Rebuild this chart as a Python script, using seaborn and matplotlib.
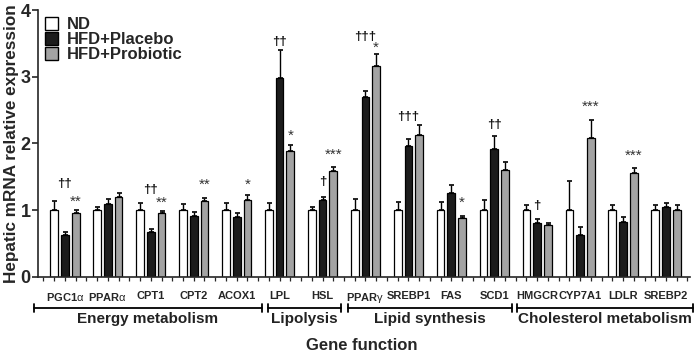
import numpy as np
import pandas as pd
import matplotlib
matplotlib.use("Agg")
import matplotlib.pyplot as plt
import seaborn as sns
from matplotlib.patches import Patch

# -------------------------------
# data
# -------------------------------
genes = ["PGC1$\\mathrm{\\alpha}$", "PPAR$\\mathrm{\\alpha}$", "CPT1", "CPT2", "ACOX1",
         "LPL", "HSL",
         "PPAR$\\mathrm{\\gamma}$", "SREBP1", "FAS", "SCD1",
         "HMGCR", "CYP7A1", "LDLR", "SREBP2"]
groups = ["ND", "HFD+Placebo", "HFD+Probiotic"]

nd_mean = [1.00, 1.00, 1.00, 1.00, 1.00, 1.00, 1.00, 1.00, 1.00, 1.00, 1.00, 1.00, 1.00, 1.00, 1.00]
nd_err = [0.13, 0.05, 0.10, 0.09, 0.10, 0.10, 0.05, 0.17, 0.12, 0.12, 0.15, 0.07, 0.43, 0.07, 0.07]
placebo_mean = [0.63, 1.09, 0.67, 0.91, 0.89, 2.99, 1.15, 2.70, 1.96, 1.25, 1.91, 0.81, 0.63, 0.82, 1.05]
placebo_err = [0.04, 0.07, 0.05, 0.06, 0.06, 0.41, 0.05, 0.09, 0.11, 0.12, 0.20, 0.05, 0.11, 0.08, 0.05]
probiotic_mean = [0.95, 1.19, 0.95, 1.14, 1.15, 1.88, 1.59, 3.16, 2.12, 0.88, 1.60, 0.77, 2.08, 1.56, 1.00]
probiotic_err = [0.05, 0.06, 0.03, 0.04, 0.07, 0.10, 0.06, 0.19, 0.15, 0.03, 0.12, 0.03, 0.28, 0.07, 0.07]

# significance marks: gene index, group index, symbol, height
sig_gene = [0, 0, 2, 2, 3, 4, 5, 5, 6, 6, 7, 7, 8, 9, 10, 11, 12, 13]
sig_group = [1, 2, 1, 2, 2, 2, 1, 2, 1, 2, 1, 2, 1, 2, 1, 1, 2, 2]
sig_text = ["††", "**", "††", "**", "**", "*", "††", "*", "†", "***", "†††", "*",
            "†††", "*", "††", "†", "***", "***"]
sig_y = [1.39, 1.12, 1.30, 1.11, 1.38, 1.38, 3.53, 2.12, 1.42, 1.83, 3.60, 3.44,
         2.40, 1.11, 2.27, 1.06, 2.55, 1.82]

# functional groups: label, x-start, x-end
func_labels = ["Energy metabolism", "Lipolysis", "Lipid synthesis", "Cholesterol metabolism"]
func_start = [-0.72, 4.74, 6.60, 10.53]
func_end = [4.58, 6.43, 10.41, 14.63]

colors = ["white", "#1c1c1c", "#a3a3a3"]

df = pd.DataFrame({
    "gene": genes * 3,
    "group": [g for g in groups for _ in genes],
    "value": nd_mean + placebo_mean + probiotic_mean,
})
errs = [nd_err, placebo_err, probiotic_err]

# -------------------------------
# plot
# -------------------------------
sns.set_style("ticks")
plt.rcParams["font.family"] = ["Liberation Sans", "DejaVu Sans"]
plt.rcParams["mathtext.fontset"] = "custom"
plt.rcParams["mathtext.rm"] = "Liberation Sans"

fig = plt.figure(figsize=(6.97, 3.56), dpi=100)
ax = fig.add_axes([0.054, 0.223, 0.936, 0.748])

sns.barplot(data=df, x="gene", y="value", hue="group", order=genes, hue_order=groups,
            palette=colors, width=0.75, gap=0.28, errorbar=None,
            edgecolor="black", linewidth=0.9, legend=False, ax=ax)

# one-sided error bars
for cont, err in zip(ax.containers, errs):
    xs = [b.get_x() + b.get_width() / 2 for b in cont]
    ys = [b.get_height() for b in cont]
    ax.errorbar(xs, ys, yerr=[np.zeros(len(err)), err], fmt="none", ecolor="black",
                elinewidth=1, capsize=1.8, capthick=1.2, zorder=1)

# significance marks
for gi, hi, txt, y in zip(sig_gene, sig_group, sig_text, sig_y):
    b = ax.containers[hi][gi]
    xc = b.get_x() + b.get_width() / 2
    if "†" in txt:
        ax.text(xc, y, txt, ha="center", va="center", fontsize=9.5, fontweight="bold", color="#111111")
    else:
        ax.text(xc, y, txt, ha="center", va="center", fontsize=11, color="#333333")

ax.set_xlim(-0.636, 14.56)
ax.set_ylim(0, 4)
ax.set_yticks([0, 1, 2, 3, 4])
ax.set_xticks(range(len(genes)))
ax.set_xticklabels(genes, fontsize=8, fontweight="bold")
ax.set_xticks([i + d for i in range(len(genes)) for d in (-0.5, -0.25, 0.25)] + [14.5], minor=True)
ax.tick_params(axis="x", which="both", length=3, width=0.9, pad=7, direction="out")
ax.tick_params(axis="y", length=4, width=1.2, labelsize=13, pad=1)
for lab in ax.get_yticklabels():
    lab.set_fontweight("bold")
sns.despine(ax=ax)
ax.spines["left"].set_linewidth(1.2)
ax.spines["bottom"].set_linewidth(1.2)

ax.set_xlabel("")
ax.set_ylabel("Hepatic mRNA relative expression", fontsize=12.3, fontweight="bold", labelpad=1)

# group brackets
tr = ax.get_xaxis_transform()
for lab, x0, x1 in zip(func_labels, func_start, func_end):
    ax.plot([x0, x1], [-0.1165, -0.1165], color="black", lw=1.3, transform=tr, clip_on=False)
    for xe in (x0, x1):
        ax.plot([xe, xe], [-0.1015, -0.1315], color="black", lw=1.3, transform=tr, clip_on=False)
    ax.text((x0 + x1) / 2, -0.16, lab, ha="center", va="center", fontsize=11,
            fontweight="bold", transform=tr, color="#222222")

fig.text(0.519, 0.03, "Gene function", ha="center", va="center", fontsize=12, fontweight="bold")

handles = [Patch(facecolor=c, edgecolor="black", linewidth=1) for c in colors]
ax.legend(handles, groups, loc="upper left", bbox_to_anchor=(0.011, 0.975), frameon=False,
          prop={"size": 12, "weight": "bold"}, handlelength=0.8, handleheight=0.8,
          handletextpad=0.5, labelspacing=0.0, borderpad=0, borderaxespad=0)

fig.savefig("out.png", dpi=100)
